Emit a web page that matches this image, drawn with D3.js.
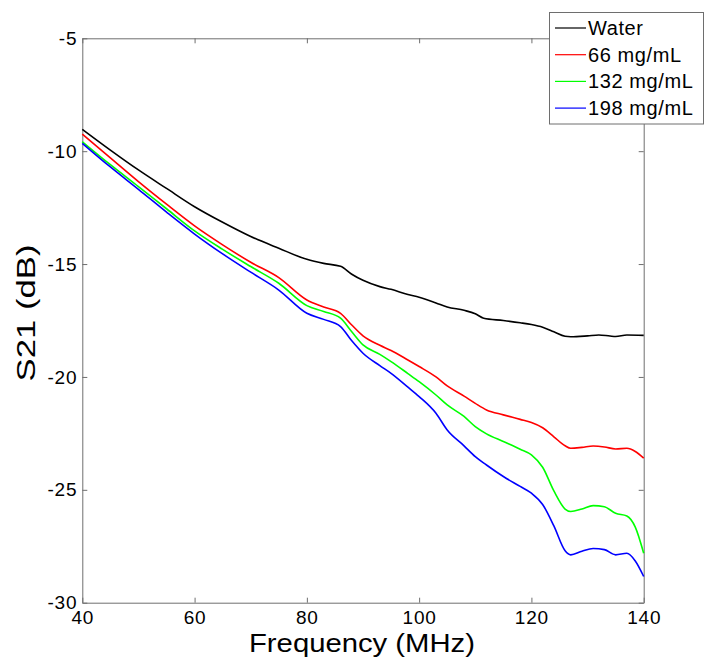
<!DOCTYPE html>
<html>
<head>
    <meta charset="utf-8">
    <script src="https://cdnjs.cloudflare.com/ajax/libs/d3/7.8.5/d3.min.js"></script>
    <style>
        body, html {
            margin: 0;
            padding: 0;
            background: #fff;
            overflow: hidden;
        }
        svg { display: block; }
        text { font-family: "Liberation Sans", Arial, sans-serif; fill: #000; }
    </style>
</head>
<body>
    <svg></svg>
    <script>
        // data
        const seriesNames = ["Water", "66 mg/mL", "132 mg/mL", "198 mg/mL"];
        const seriesColors = ["#000000", "#ff0000", "#00ff00", "#0000ff"];

        const waterFreq = [40, 45, 50, 55, 60, 65, 70, 75, 80, 83, 86, 88, 90, 93, 95, 98, 100, 103, 105, 108, 110, 111.5, 115, 118, 120, 122, 124, 126, 127, 130, 132, 134, 135, 137, 140];
        const waterS21 = [-9.03, -9.95, -10.83, -11.65, -12.46, -13.15, -13.78, -14.3, -14.79, -14.97, -15.1, -15.45, -15.72, -16.0, -16.12, -16.35, -16.47, -16.72, -16.9, -17.05, -17.2, -17.4, -17.5, -17.6, -17.68, -17.8, -18.0, -18.2, -18.22, -18.18, -18.14, -18.19, -18.21, -18.14, -18.16];

        const sampleFreq = [40, 45, 50, 55, 60, 65, 70, 75, 80, 83, 86, 88, 90, 93, 95, 98, 100, 103, 105, 108, 110, 112, 115, 118, 120, 122, 124, 126, 127, 129, 131, 133, 135, 137, 138.5, 140];
        const s21_66 = [-9.24, -10.3, -11.35, -12.35, -13.31, -14.15, -14.92, -15.6, -16.59, -16.9, -17.18, -17.7, -18.18, -18.6, -18.83, -19.25, -19.54, -20.0, -20.4, -20.85, -21.17, -21.46, -21.68, -21.88, -22.02, -22.25, -22.65, -23.05, -23.16, -23.12, -23.06, -23.1, -23.19, -23.16, -23.3, -23.6];
        const s21_132 = [-9.58, -10.6, -11.57, -12.55, -13.53, -14.35, -15.11, -15.85, -16.84, -17.1, -17.4, -18.0, -18.58, -19.0, -19.32, -19.85, -20.21, -20.8, -21.24, -21.75, -22.2, -22.52, -22.86, -23.2, -23.45, -24.0, -25.05, -25.85, -25.96, -25.85, -25.7, -25.75, -26.04, -26.16, -26.65, -27.81];
        const s21_198 = [-9.65, -10.7, -11.69, -12.7, -13.67, -14.55, -15.36, -16.15, -17.18, -17.45, -17.77, -18.4, -18.95, -19.5, -19.84, -20.45, -20.87, -21.61, -22.35, -23.05, -23.53, -23.9, -24.41, -24.85, -25.15, -25.65, -26.6, -27.7, -27.88, -27.72, -27.6, -27.65, -27.88, -27.81, -28.15, -28.84];

        const xTicks = [40, 60, 80, 100, 120, 140];
        const yTicks = [-5, -10, -15, -20, -25, -30];

        const width = 705, height = 664;
        const margin = { left: 82.3, top: 38.3, right: 705 - 643.7, bottom: 664 - 602.7 };

        const svg = d3.select("svg").attr("width", width).attr("height", height);

        const x = d3.scaleLinear().domain([40, 140]).range([margin.left, width - margin.right]);
        const y = d3.scaleLinear().domain([-30, -5]).range([height - margin.bottom, margin.top]);

        const series = [
            waterFreq.map((f, i) => [f, waterS21[i]]),
            sampleFreq.map((f, i) => [f, s21_66[i]]),
            sampleFreq.map((f, i) => [f, s21_132[i]]),
            sampleFreq.map((f, i) => [f, s21_198[i]])
        ];

        const frame = "#6e6e6e";
        const tickLen = 5;
        const fmt = d => String(d);   // plain hyphen like the original

        function styleLabels(g) {
            g.selectAll("text")
                .attr("font-size", 19)
                .style("font-family", "Liberation Sans, Arial, sans-serif")
                .style("letter-spacing", "0.8px")
                .attr("fill", "#000");
        }

        // axes with inward ticks on all four sides
        svg.append("g")
            .attr("transform", `translate(0,${y(-30)})`)
            .call(d3.axisBottom(x).tickValues(xTicks).tickFormat(fmt).tickSizeInner(-tickLen).tickSizeOuter(0).tickPadding(8))
            .call(g => g.select(".domain").attr("stroke", frame))
            .call(g => g.selectAll(".tick line").attr("stroke", frame))
            .call(styleLabels);

        svg.append("g")
            .attr("transform", `translate(0,${y(-5)})`)
            .call(d3.axisTop(x).tickValues(xTicks).tickSizeInner(-tickLen).tickSizeOuter(0).tickFormat(""))
            .call(g => g.select(".domain").attr("stroke", frame))
            .call(g => g.selectAll(".tick line").attr("stroke", frame));

        svg.append("g")
            .attr("transform", `translate(${x(40)},0)`)
            .call(d3.axisLeft(y).tickValues(yTicks).tickFormat(fmt).tickSizeInner(-tickLen).tickSizeOuter(0).tickPadding(5))
            .call(g => g.select(".domain").attr("stroke", frame))
            .call(g => g.selectAll(".tick line").attr("stroke", frame))
            .call(styleLabels);

        svg.append("g")
            .attr("transform", `translate(${x(140)},0)`)
            .call(d3.axisRight(y).tickValues(yTicks).tickSizeInner(-tickLen).tickSizeOuter(0).tickFormat(""))
            .call(g => g.select(".domain").attr("stroke", frame))
            .call(g => g.selectAll(".tick line").attr("stroke", frame));

        const line = d3.line()
            .x(d => x(d[0]))
            .y(d => y(d[1]))
            .curve(d3.curveMonotoneX);

        svg.append("g")
            .selectAll("path")
            .data(series)
            .join("path")
            .attr("fill", "none")
            .attr("stroke", (d, i) => seriesColors[i])
            .attr("stroke-width", 1.6)
            .attr("d", line);

        // axis titles
        svg.append("text")
            .attr("x", 362)
            .attr("y", 652)
            .attr("text-anchor", "middle")
            .attr("font-size", 25)
            .attr("textLength", 226)
            .attr("lengthAdjust", "spacingAndGlyphs")
            .text("Frequency (MHz)");

        svg.append("text")
            .attr("transform", "translate(35,313) rotate(-90)")
            .attr("text-anchor", "middle")
            .attr("font-size", 26)
            .attr("textLength", 137)
            .attr("lengthAdjust", "spacingAndGlyphs")
            .text("S21 (dB)");

        // legend
        const legend = svg.append("g");
        legend.append("rect")
            .attr("x", 549.5)
            .attr("y", 12.5)
            .attr("width", 154)
            .attr("height", 111.5)
            .attr("fill", "#fff")
            .attr("stroke", frame);

        const rows = legend.selectAll("g.row")
            .data(seriesNames)
            .join("g")
            .attr("class", "row")
            .attr("transform", (d, i) => `translate(0,${28 + i * 26.7})`);

        rows.append("line")
            .attr("x1", 555).attr("x2", 586)
            .attr("stroke", (d, i) => seriesColors[i])
            .attr("stroke-width", 1.2);

        rows.append("text")
            .attr("x", 588)
            .attr("dy", "0.35em")
            .attr("font-size", 20)
            .style("letter-spacing", "0.6px")
            .text(d => d);
    </script>
</body>
</html>
